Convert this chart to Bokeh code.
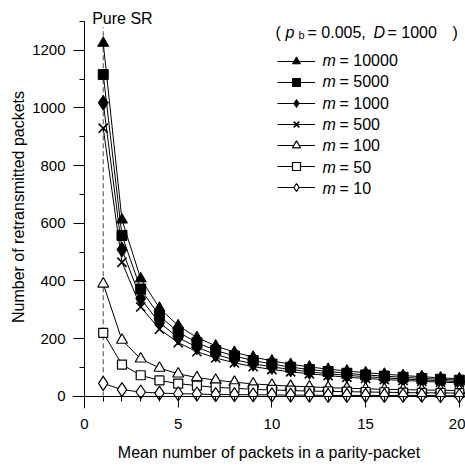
from bokeh.plotting import figure
from bokeh.models import (Range1d, SingleIntervalTicker, Legend, LegendItem, Label, LinearAxis)
from bokeh.embed import file_html
from bokeh.resources import INLINE

# ---- data ----
x_vals = list(range(1, 21))
m10000 = [1225, 612, 408, 306, 245, 204, 175, 153, 136, 123, 111, 102, 94, 88, 82, 77, 72, 68, 64, 61]
m5000 = [1116, 558, 372, 279, 223, 186, 159, 140, 124, 112, 101, 93, 86, 80, 74, 70, 66, 62, 59, 56]
m1000 = [1018, 509, 339, 255, 204, 170, 145, 127, 113, 102, 93, 85, 78, 73, 68, 64, 60, 57, 54, 51]
m500 = [930, 465, 310, 233, 186, 155, 133, 116, 103, 93, 85, 78, 72, 66, 62, 58, 55, 52, 49, 47]
m100 = [390, 195, 130, 98, 78, 65, 56, 49, 43, 39, 35, 33, 30, 28, 26, 24, 23, 22, 21, 20]
m50 = [220, 110, 73, 55, 44, 37, 31, 28, 24, 22, 20, 18, 17, 16, 15, 14, 13, 12, 12, 11]
m10 = [45, 23, 15, 11, 9, 8, 6, 6, 5, 5, 4, 4, 3, 3, 3, 3, 3, 3, 2, 2]
m_values = ["10000", "5000", "1000", "500", "100", "50", "10"]
pure_sr_x = 1
x_ticks_major = 5
y_ticks_major = 200
y_axis_top = 1300

FONT = "Liberation Sans"

p = figure(width=465, height=469, output_backend="svg", toolbar_location=None,
           x_range=Range1d(-0.64, 20.33), y_range=Range1d(-42.3, 1355.5),
           x_axis_location=None, y_axis_location=None)
p.min_border = 0
p.min_border_left = 72
p.min_border_right = 0
p.min_border_top = 5
p.min_border_bottom = 61
p.grid.visible = False
p.outline_line_color = None
p.background_fill_color = "white"
p.border_fill_color = "white"


def label_axis(ticker):
    return LinearAxis(ticker=ticker, axis_line_color=None, major_tick_line_color=None,
                      minor_tick_line_color=None, major_tick_in=0, major_tick_out=0,
                      minor_tick_in=0, minor_tick_out=0,
                      major_label_text_font=FONT, major_label_text_font_size="15px",
                      major_label_text_color="black",
                      axis_label_text_font=FONT, axis_label_text_font_size="16px",
                      axis_label_text_font_style="normal", axis_label_text_color="black")


def line_axis(ticker, bounds="auto"):
    return LinearAxis(ticker=ticker, fixed_location=0, bounds=bounds, axis_line_color="black",
                      major_tick_line_color="black", minor_tick_line_color="black",
                      major_tick_in=0, major_tick_out=11, minor_tick_in=0, minor_tick_out=5,
                      major_label_text_color=None, major_label_text_font_size="15px")


xt = SingleIntervalTicker(interval=x_ticks_major, num_minor_ticks=5)
yt = SingleIntervalTicker(interval=y_ticks_major, num_minor_ticks=2)

xlab = label_axis(xt)
xlab.axis_label = "Mean number of packets in a parity-packet"
xlab.major_label_standoff = 10
xlab.axis_label_standoff = 12
ylab = label_axis(yt)
ylab.axis_label = "Number of retransmitted packets"
ylab.major_label_standoff = 7
ylab.axis_label_standoff = 2
p.add_layout(xlab, "below")
p.add_layout(ylab, "left")
p.add_layout(line_axis(xt), "below")
p.add_layout(line_axis(yt, bounds=(-42.3, y_axis_top + 0.5)), "left")

# dashed "Pure SR" line
p.segment(x0=[pure_sr_x], y0=[0], x1=[pure_sr_x], y1=[1280],
          line_color="#666666", line_width=1.2, line_dash="5 3")

styles = [
    (m10000, dict(marker="triangle", size=11, fill_color="black", line_color="black")),
    (m5000, dict(marker="square", size=10, fill_color="black", line_color="black")),
    (m1000, dict(marker="diamond", size=15, fill_color="black", line_color="black")),
    (m500, dict(marker="x", size=13, line_color="black", line_width=1.6)),
    (m100, dict(marker="triangle", size=11, fill_color="white", line_color="black", line_width=1.2)),
    (m50, dict(marker="square", size=9, fill_color="white", line_color="black", line_width=1.2)),
    (m10, dict(marker="diamond", size=14, fill_color="white", line_color="black", line_width=1.2)),
]

items = []
for (vals, st), mv in zip(styles, m_values):
    lr = p.line(x_vals, vals, line_color="black", line_width=1)
    sr = p.scatter(x_vals, vals, **st)
    items.append(LegendItem(label=" ", renderers=[lr, sr]))

legend = Legend(items=items, location=(205, 211), padding=0, margin=0,
                border_line_color=None, background_fill_alpha=0,
                glyph_width=38, glyph_height=20, label_height=20, spacing=1,
                label_standoff=7, label_text_font=FONT, label_text_font_size="16px",
                label_text_color="black")
p.add_layout(legend, "center")


def px2x(px):
    return (px - 84.0) / 18.74


def py2y(py):
    return (395.8 - py) / 0.2883


def add_text(txt, px, py, style="normal", size="16px"):
    p.add_layout(Label(x=px2x(px), y=py2y(py), text=txt, text_font=FONT,
                       text_font_style=style, text_font_size=size, text_color="black",
                       text_baseline="middle"))


# legend entry texts: italic m, upright rest
for i, mv in enumerate(m_values):
    row = 60 + 21.33 * i
    add_text("m", 322, row, "italic")
    add_text("= " + mv, 339, row)

# "Pure SR" marker text
add_text("Pure SR", 91.7, 18)

# legend title ( p_b = 0.005, D = 1000 )
add_text("(", 275, 32)
add_text("p", 285, 32, "italic")
add_text("b", 298, 35, "normal", "11px")
add_text("= 0.005,", 307, 32)
add_text("D", 373, 32, "italic")
add_text("= 1000", 387, 32)
add_text(")", 452, 32)

open("out.html", "w").write(file_html(p, INLINE))
